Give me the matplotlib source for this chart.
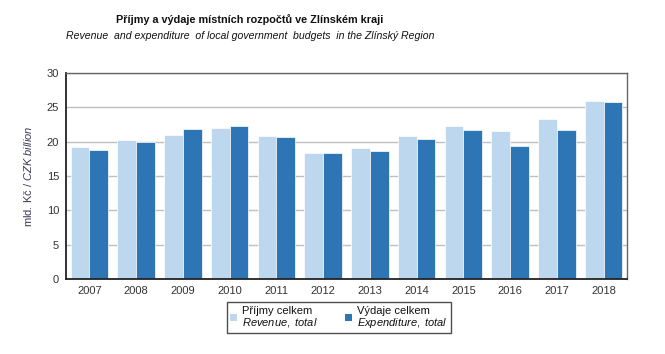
import numpy as np
import matplotlib.pyplot as plt
from matplotlib.patches import Patch

plt.rcParams["font.family"] = ["Liberation Sans", "DejaVu Sans"]
plt.rcParams["mathtext.fontset"] = "custom"
plt.rcParams["mathtext.it"] = "Liberation Sans:italic"
plt.rcParams["mathtext.rm"] = "Liberation Sans"

years = ["2007", "2008", "2009", "2010", "2011", "2012",
         "2013", "2014", "2015", "2016", "2017", "2018"]
revenue = [19.2, 20.2, 20.95, 22.0, 20.8, 18.3, 19.05, 20.8, 22.25, 21.55, 23.3, 25.9]
expenditure = [18.8, 20.0, 21.8, 22.3, 20.65, 18.3, 18.65, 20.35, 21.7, 19.35, 21.7, 25.75]

light = "#BDD7EE"
dark = "#2E75B6"

fig = plt.figure(figsize=(6.65, 3.54), dpi=100)
ax = fig.add_axes([66 / 665, 1 - 279 / 354, 561 / 665, 206 / 354])

x = np.arange(len(years))
w = 0.4
ax.bar(x - w / 2, revenue, w, color=light, edgecolor="white", linewidth=0.5, zorder=2)
ax.bar(x + w / 2, expenditure, w, color=dark, edgecolor="white", linewidth=0.5, zorder=2)

ax.set_xlim(-0.5, len(years) - 0.5)
ax.set_ylim(0, 30)
ax.set_yticks(np.arange(0, 31, 5))
ax.set_xticks(x)
ax.set_xticklabels(years)
ax.tick_params(length=0, labelsize=8, colors="#333333", pad=5)
ax.grid(axis="y", color="#C0C0C0", linewidth=1, zorder=0)

for side in ["left", "bottom"]:
    ax.spines[side].set_color("#222222")
    ax.spines[side].set_linewidth(1.3)
for side in ["top", "right"]:
    ax.spines[side].set_color("#666666")
    ax.spines[side].set_linewidth(1.0)
for sp in ax.spines.values():
    sp.set_zorder(3)

ax.set_ylabel(r"mld. Kč / $\it{CZK\ billion}$", fontsize=8, color="#3a3a5a", labelpad=9)

fig.text(250 / 665, 1 - 20 / 354, "Příjmy a výdaje místních rozpočtů ve Zlínském kraji",
         ha="center", va="center", fontsize=7.8, fontweight="bold", color="#111111")
fig.text(250 / 665, 1 - 36 / 354, "Revenue  and expenditure  of local government  budgets  in the Zlínský Region",
         ha="center", va="center", fontsize=7.6, style="italic", color="#111111")

handles = [Patch(facecolor=light, edgecolor="none"), Patch(facecolor=dark, edgecolor="none")]
labels = ["Příjmy celkem\n$\\it{Revenue,\\ total}$", "Výdaje celkem\n$\\it{Expenditure,\\ total}$"]
leg = fig.legend(handles, labels, loc="center", bbox_to_anchor=(339 / 665, 1 - 317.5 / 354),
                 ncol=2, fontsize=8, frameon=True, fancybox=False, edgecolor="#222222",
                 handlelength=0.6, handleheight=0.6, handletextpad=0.5, columnspacing=2.4,
                 borderpad=0.3, borderaxespad=0)
leg.get_frame().set_linewidth(1.0)
for t in leg.get_texts():
    t.set_linespacing(1.0)
    t.set_color("#111111")

fig.savefig("out.png", dpi=100)
